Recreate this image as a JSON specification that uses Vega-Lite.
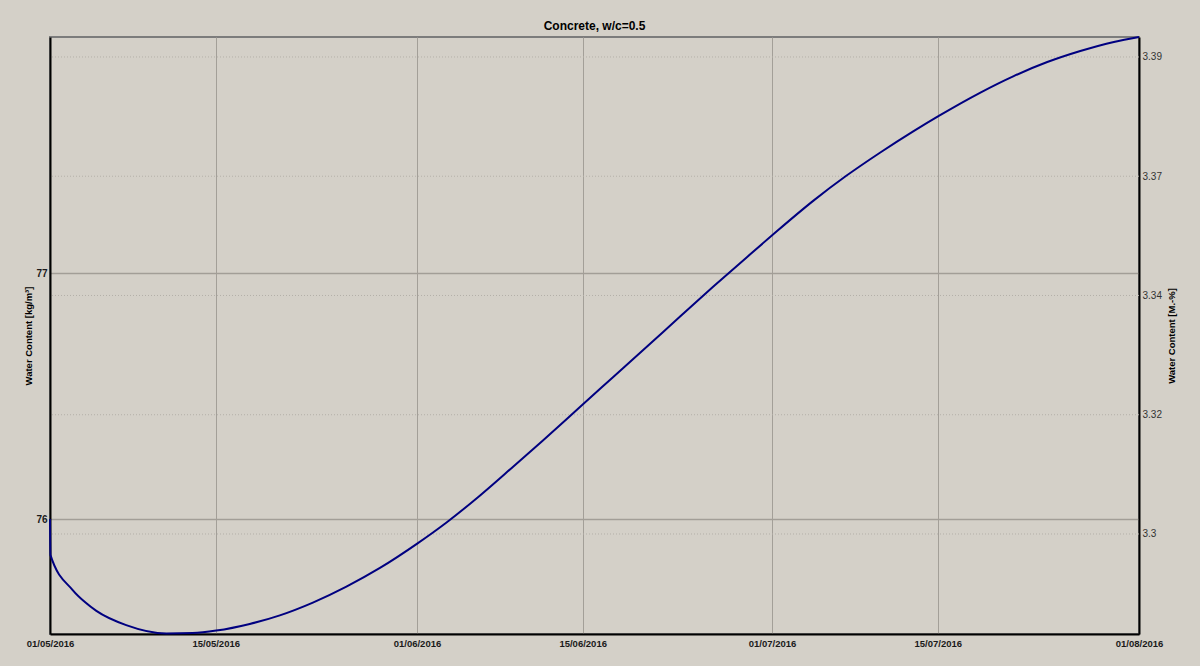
{
  "$schema": "https://vega.github.io/schema/vega-lite/v6.json",
  "autosize": {"type": "none"},
  "width": 1089,
  "height": 597,
  "padding": {"left": 50, "top": 37, "right": 61, "bottom": 32},
  "background": "#d4d0c8",
  "title": {"text": "Concrete, w/c=0.5", "font": "Liberation Sans", "fontSize": 12, "fontWeight": "bold", "color": "#000000", "anchor": "middle", "offset": 0},
  "config": {
    "view": {"stroke": "#7c7c7c", "strokeWidth": 2},
    "axis": {"ticks": false, "domainColor": "#000000", "domainWidth": 2, "labelFont": "Liberation Sans", "titleFont": "Liberation Sans"}
  },
  "datasets": {
    "water": [
      {"date": "2016-05-01T00:00", "kg": 76.000},
      {"date": "2016-05-01T01:00", "kg": 75.853},
      {"date": "2016-05-02T22:00", "kg": 75.711},
      {"date": "2016-05-04T00:00", "kg": 75.660},
      {"date": "2016-05-04T22:00", "kg": 75.626},
      {"date": "2016-05-07T10:30", "kg": 75.568},
      {"date": "2016-05-10T20:00", "kg": 75.534},
      {"date": "2016-05-13T01:00", "kg": 75.536},
      {"date": "2016-05-15T01:00", "kg": 75.546},
      {"date": "2016-05-17T21:00", "kg": 75.573},
      {"date": "2016-05-20T10:00", "kg": 75.608},
      {"date": "2016-05-23T05:00", "kg": 75.660},
      {"date": "2016-05-26T01:00", "kg": 75.725},
      {"date": "2016-05-28T21:00", "kg": 75.801},
      {"date": "2016-06-01T02:00", "kg": 75.902},
      {"date": "2016-06-03T12:00", "kg": 75.986},
      {"date": "2016-06-06T08:00", "kg": 76.096},
      {"date": "2016-06-09T03:00", "kg": 76.213},
      {"date": "2016-06-11T16:00", "kg": 76.321},
      {"date": "2016-06-14T18:30", "kg": 76.456},
      {"date": "2016-06-17T14:00", "kg": 76.578},
      {"date": "2016-06-20T10:00", "kg": 76.701},
      {"date": "2016-06-23T05:30", "kg": 76.824},
      {"date": "2016-06-26T01:00", "kg": 76.946},
      {"date": "2016-06-28T21:00", "kg": 77.066},
      {"date": "2016-07-01T00:45", "kg": 77.156},
      {"date": "2016-07-04T12:00", "kg": 77.296},
      {"date": "2016-07-07T06:30", "kg": 77.397},
      {"date": "2016-07-10T03:30", "kg": 77.492},
      {"date": "2016-07-12T23:00", "kg": 77.579},
      {"date": "2016-07-15T03:00", "kg": 77.642},
      {"date": "2016-07-18T14:30", "kg": 77.736},
      {"date": "2016-07-21T10:00", "kg": 77.803},
      {"date": "2016-07-24T06:00", "kg": 77.860},
      {"date": "2016-07-27T01:00", "kg": 77.905},
      {"date": "2016-07-29T21:00", "kg": 77.942},
      {"date": "2016-08-01T00:00", "kg": 77.962}
    ],
    "pctTicks": [
      {"pct": 3.3},
      {"pct": 3.3225},
      {"pct": 3.345},
      {"pct": 3.3675},
      {"pct": 3.39}
    ]
  },
  "layer": [
    {
      "data": {"name": "pctTicks"},
      "mark": {"type": "rule", "color": "#b4b0a8", "strokeWidth": 1, "strokeDash": [1, 2]},
      "encoding": {
        "y": {
          "field": "pct", "type": "quantitative",
          "scale": {"domain": [3.28113, 3.39377], "nice": false, "zero": false},
          "axis": {
            "orient": "right",
            "title": "Water Content [M.-%]",
            "values": [3.3, 3.3225, 3.345, 3.3675, 3.39],
            "labelExpr": "datum.value < 3.31 ? '3.3' : datum.value < 3.33 ? '3.32' : datum.value < 3.355 ? '3.34' : datum.value < 3.38 ? '3.37' : '3.39'",
            "grid": false,
            "labelFontSize": 10,
            "labelFontWeight": "normal",
            "labelColor": "#333333",
            "labelPadding": 3,
            "titleFontSize": 9.5,
            "titleFontWeight": "bold",
            "titleColor": "#000000",
            "titleAngle": 270,
            "titleAlign": "center",
            "titleBaseline": "middle",
            "titleX": 32,
            "titleY": 298.5
          }
        }
      }
    },
    {
      "data": {"name": "water"},
      "mark": {"type": "line", "color": "#000080", "strokeWidth": 2, "interpolate": "monotone"},
      "encoding": {
        "x": {
          "field": "date", "type": "temporal",
          "scale": {"domain": [{"year": 2016, "month": 5, "date": 1}, {"year": 2016, "month": 8, "date": 1}], "nice": false},
          "axis": {
            "title": null,
            "format": "%d/%m/%Y",
            "values": [
              {"year": 2016, "month": 5, "date": 1},
              {"year": 2016, "month": 5, "date": 15},
              {"year": 2016, "month": 6, "date": 1},
              {"year": 2016, "month": 6, "date": 15},
              {"year": 2016, "month": 7, "date": 1},
              {"year": 2016, "month": 7, "date": 15},
              {"year": 2016, "month": 8, "date": 1}
            ],
            "labelFlush": false,
            "labelOverlap": false,
            "labelFontSize": 9.5,
            "labelFontWeight": "bold",
            "labelColor": "#1a1a1a",
            "labelPadding": 4,
            "labelAngle": 0,
            "grid": true,
            "gridColor": "#a39f98",
            "gridWidth": 1
          }
        },
        "y": {
          "field": "kg", "type": "quantitative",
          "scale": {"domain": [75.532, 77.962], "nice": false, "zero": false},
          "axis": {
            "orient": "left",
            "title": "Water Content [kg/m³]",
            "values": [76, 77],
            "format": "d",
            "labelFontSize": 10,
            "labelFontWeight": "bold",
            "labelColor": "#1a1a1a",
            "labelPadding": 3,
            "grid": true,
            "gridColor": "#a29e97",
            "gridWidth": 1.5,
            "titleFontSize": 9.5,
            "titleFontWeight": "bold",
            "titleColor": "#000000",
            "titleAngle": 270,
            "titleAlign": "center",
            "titleBaseline": "middle",
            "titleX": -21.5,
            "titleY": 298.5
          }
        }
      }
    }
  ],
  "resolve": {"scale": {"y": "independent"}, "axis": {"y": "independent"}}
}
